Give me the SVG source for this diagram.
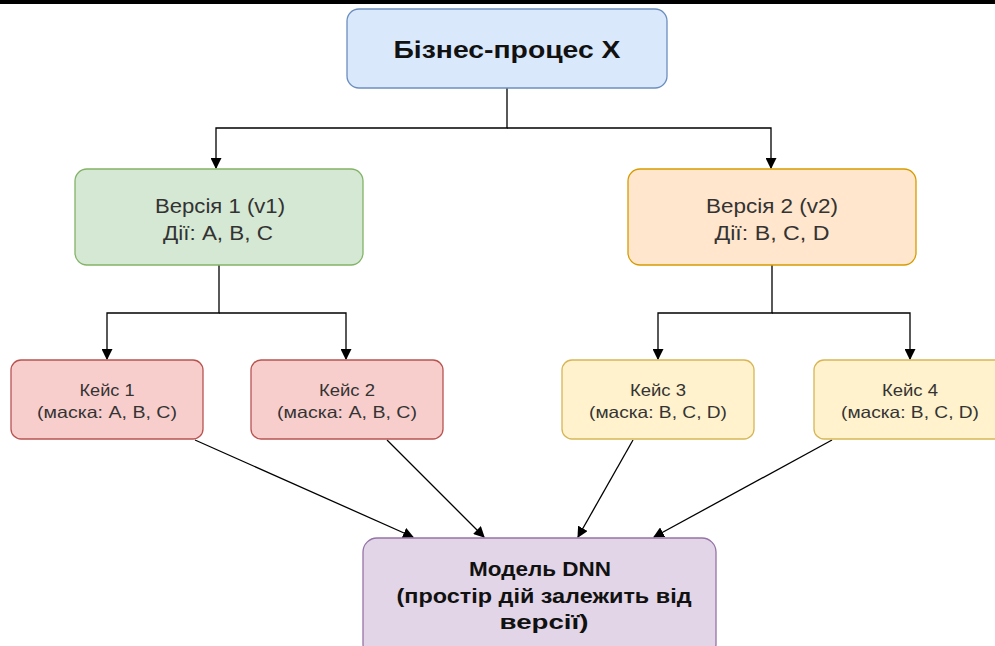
<svg xmlns="http://www.w3.org/2000/svg" width="995" height="646" viewBox="0 0 995 646">
<style>
text{font-family:"Liberation Sans",Arial,sans-serif;fill:#333;text-anchor:middle}
.b{font-weight:bold;fill:#111}
.v{font-size:20px}
.k{font-size:16.5px}
.d{font-size:19.5px}
.n{stroke-width:1.3}
.c{fill:none;stroke:#000;stroke-width:1.3}
</style>
<defs>
<marker id="ah" viewBox="0 0 10 10" refX="9" refY="5" markerWidth="11" markerHeight="11" markerUnits="userSpaceOnUse" orient="auto">
<path d="M0,0 L10,5 L0,10 z" fill="#000"/>
</marker>
</defs>
<rect x="0" y="0" width="995" height="646" fill="#fff"/>
<rect x="0" y="0" width="995" height="4" fill="#000"/>
<g id="connectors">
<path class="c" d="M507,88 V128 H216 V168" marker-end="url(#ah)"/>
<path class="c" d="M507,128 H771 V168" marker-end="url(#ah)"/>
<path class="c" d="M219,265 V313 H107 V359" marker-end="url(#ah)"/>
<path class="c" d="M219,313 H346 V359" marker-end="url(#ah)"/>
<path class="c" d="M772,265 V313 H658 V359" marker-end="url(#ah)"/>
<path class="c" d="M772,313 H910 V359" marker-end="url(#ah)"/>
<path class="c" d="M195,440 L413,537" marker-end="url(#ah)"/>
<path class="c" d="M387,440 L484,537" marker-end="url(#ah)"/>
<path class="c" d="M633,440 L578,537" marker-end="url(#ah)"/>
<path class="c" d="M832,440 L654,537" marker-end="url(#ah)"/>
</g>
<g id="process">
<rect class="n" x="347" y="9" width="320" height="79" rx="12" fill="#dae8fc" stroke="#6c8ebf"/>
<text class="b" x="507" y="58" font-size="24" textLength="227" lengthAdjust="spacingAndGlyphs">Бізнес-процес X</text>
</g>
<g id="v1">
<rect class="n" x="75" y="169" width="288" height="96" rx="12" fill="#d5e8d4" stroke="#82b366"/>
<text class="v" x="220" y="213" textLength="130" lengthAdjust="spacingAndGlyphs">Версія 1 (v1)</text>
<text class="v" x="218" y="240" textLength="110" lengthAdjust="spacingAndGlyphs">Дії: A, B, C</text>
</g>
<g id="v2">
<rect class="n" x="628" y="169" width="288" height="96" rx="12" fill="#ffe6cc" stroke="#d79b00"/>
<text class="v" x="772" y="213" textLength="132" lengthAdjust="spacingAndGlyphs">Версія 2 (v2)</text>
<text class="v" x="772" y="240" textLength="115" lengthAdjust="spacingAndGlyphs">Дії: B, C, D</text>
</g>
<g id="case1">
<rect class="n" x="11" y="360" width="192" height="79" rx="10" fill="#f8cecc" stroke="#b85450"/>
<text class="k" x="107" y="396" textLength="55" lengthAdjust="spacingAndGlyphs">Кейс 1</text>
<text class="k" x="107" y="418" textLength="140" lengthAdjust="spacingAndGlyphs">(маска: A, B, C)</text>
</g>
<g id="case2">
<rect class="n" x="251" y="360" width="192" height="79" rx="10" fill="#f8cecc" stroke="#b85450"/>
<text class="k" x="347" y="396" textLength="56" lengthAdjust="spacingAndGlyphs">Кейс 2</text>
<text class="k" x="347" y="418" textLength="140" lengthAdjust="spacingAndGlyphs">(маска: A, B, C)</text>
</g>
<g id="case3">
<rect class="n" x="562" y="360" width="192" height="79" rx="10" fill="#fff2cc" stroke="#d6b656"/>
<text class="k" x="658" y="396" textLength="56" lengthAdjust="spacingAndGlyphs">Кейс 3</text>
<text class="k" x="658" y="418" textLength="138" lengthAdjust="spacingAndGlyphs">(маска: B, C, D)</text>
</g>
<g id="case4">
<rect class="n" x="814" y="360" width="192" height="79" rx="10" fill="#fff2cc" stroke="#d6b656"/>
<text class="k" x="910" y="396" textLength="56" lengthAdjust="spacingAndGlyphs">Кейс 4</text>
<text class="k" x="910" y="418" textLength="138" lengthAdjust="spacingAndGlyphs">(маска: B, C, D)</text>
</g>
<g id="dnn">
<rect class="n" x="363" y="538" width="353" height="120" rx="14" fill="#e1d5e7" stroke="#9673a6"/>
<text class="b d" x="540" y="576" textLength="142" lengthAdjust="spacingAndGlyphs">Модель DNN</text>
<text class="b d" x="544" y="603" textLength="295" lengthAdjust="spacingAndGlyphs">(простір дій залежить від</text>
<text class="b d" x="544" y="629" textLength="89" lengthAdjust="spacingAndGlyphs">версії)</text>
</g>
</svg>
